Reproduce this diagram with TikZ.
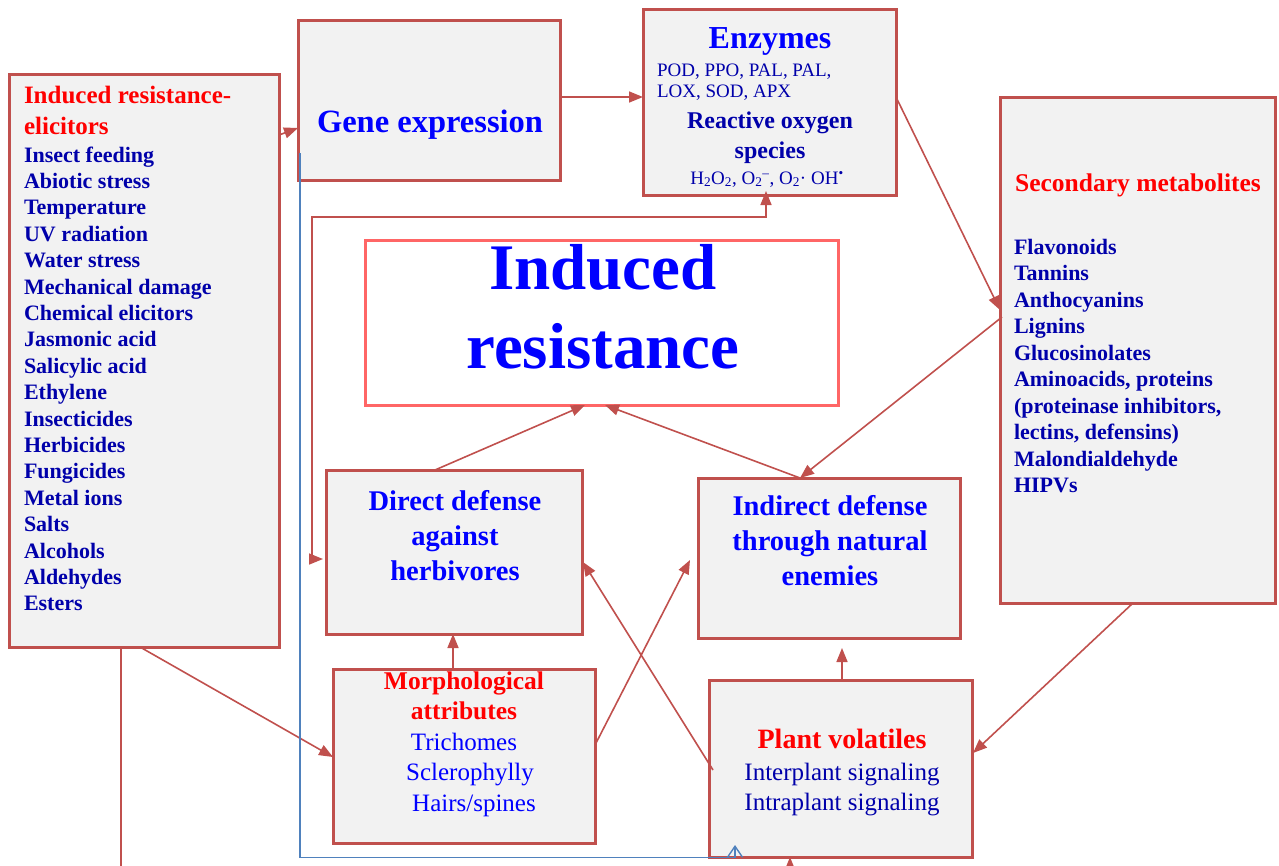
\documentclass[tikz,border=0pt]{standalone}
\usepackage{fontspec}
\setmainfont{Liberation Serif}
\usetikzlibrary{arrows.meta,calc}
\definecolor{bred}{RGB}{192,80,77}
\definecolor{bfill}{RGB}{242,242,242}
\definecolor{irred}{RGB}{255,102,102}
\definecolor{tblue}{RGB}{0,0,255}
\definecolor{navy}{RGB}{0,0,170}
\definecolor{tred}{RGB}{255,0,0}
\definecolor{lblue}{RGB}{79,129,189}
\begin{document}
\begin{tikzpicture}[x=1pt,y=-1pt,
  box/.style={draw=bred,fill=bfill,line width=3pt,inner sep=0pt,outer sep=0pt},
  con/.style={draw=bred,line width=1.6pt,-{Triangle[length=14pt,width=11pt]}},
  dcon/.style={draw=bred,line width=1.6pt,{Triangle[length=14pt,width=11pt]}-{Triangle[length=14pt,width=11pt]}},
  bcon/.style={draw=lblue,line width=1.4pt,-{Straight Barb[length=11pt,width=15pt]}},
  txt/.style={inner sep=0pt,outer sep=0pt},
  lst/.style={txt,anchor=base west,text=navy,font=\fontsize{22}{26}\selectfont\bfseries},
  rtitle/.style={txt,text=tred,font=\fontsize{25}{28}\selectfont\bfseries},
  btitle/.style={txt,anchor=base,text=tblue,font=\fontsize{28.5}{32}\selectfont\bfseries},
  mtext/.style={txt,anchor=base,text=tblue,font=\fontsize{25}{30}\selectfont},
]
\useasboundingbox (0,0) rectangle (1279,865);
\clip (0,0) rectangle (1279,865);

% boxes
\node[box,minimum width=270pt,minimum height=573pt] (elic) at (144,360.5) {};
\node[box,minimum width=262pt,minimum height=160pt] (gene) at (429,100) {};
\node[box,minimum width=253pt,minimum height=186pt] (enz) at (769.5,102) {};
\node[box,minimum width=275pt,minimum height=506pt] (sec) at (1137.5,350) {};
\node[box,draw=irred,fill=white,minimum width=473pt,minimum height=165pt] (ir) at (601.5,322.5) {};
\node[box,minimum width=256pt,minimum height=164pt] (dd) at (454,552) {};
\node[box,minimum width=262pt,minimum height=160pt] (id) at (829,558) {};
\node[box,minimum width=262pt,minimum height=174pt] (mo) at (464,756) {};
\node[box,minimum width=263pt,minimum height=177pt] (pv) at (840.5,768.5) {};

% left box text
\node[rtitle,anchor=base west] (elt1) at (24,103) {Induced resistance-};
\node[rtitle,anchor=base west] (elt2) at (24,134) {elicitors};
\foreach \t [count=\i from 0] in {Insect feeding,Abiotic stress,Temperature,UV radiation,Water stress,Mechanical damage,Chemical elicitors,Jasmonic acid,Salicylic acid,Ethylene,Insecticides,Herbicides,Fungicides,Metal ions,Salts,Alcohols,Aldehydes,Esters}
  \node[lst] (el\i) at (24,{162+26.4*\i}) {\t};

% gene expression
\node[btitle,font=\fontsize{32.5}{36}\selectfont\bfseries] (genet) at (430,132) {Gene expression};

% enzymes
\node[btitle,font=\fontsize{32}{36}\selectfont\bfseries] (enzt) at (770,48) {Enzymes};
\node[txt,anchor=base west,text=navy,font=\fontsize{19}{22}\selectfont] (enz1) at (657,76) {POD, PPO, PAL, PAL,};
\node[txt,anchor=base west,text=navy,font=\fontsize{19}{22}\selectfont] (enz2) at (657,97) {LOX, SOD, APX};
\node[txt,anchor=base,text=navy,font=\fontsize{24}{28}\selectfont\bfseries] (ros1) at (770,128) {Reactive oxygen};
\node[txt,anchor=base,text=navy,font=\fontsize{24}{28}\selectfont\bfseries] (ros2) at (770,158) {species};
\node[txt,anchor=base,text=navy,font=\fontsize{19}{22}\selectfont] (ros3) at (767,184) {H\textsubscript{2}O\textsubscript{2}, O\textsubscript{2}\textsuperscript{–}, O\textsubscript{2}· OH\textsuperscript{•}};

% induced resistance
\node[txt,anchor=base,text=tblue,font=\fontsize{65}{79}\selectfont\bfseries] (irt1) at (603,289) {Induced};
\node[txt,anchor=base,text=tblue,font=\fontsize{65}{79}\selectfont\bfseries] (irt2) at (603,368) {resistance};

% secondary metabolites
\node[rtitle,anchor=base,font=\fontsize{25.5}{28}\selectfont\bfseries] (sect) at (1138,191) {Secondary metabolites};
\foreach \t [count=\i from 0] in {Flavonoids,Tannins,Anthocyanins,Lignins,Glucosinolates,{Aminoacids, proteins},{(proteinase inhibitors,},{lectins, defensins)},Malondialdehyde,HIPVs}
  \node[lst] (se\i) at (1014,{254+26.5*\i}) {\t};

% direct / indirect defense
\node[btitle] (dd1) at (455,510) {Direct defense};
\node[btitle] (dd2) at (455,545) {against};
\node[btitle] (dd3) at (455,580) {herbivores};
\node[btitle] (id1) at (830,515) {Indirect defense};
\node[btitle] (id2) at (830,550) {through natural};
\node[btitle] (id3) at (830,585) {enemies};

% morphological
\node[rtitle,anchor=base,font=\fontsize{25.5}{30}\selectfont\bfseries] (mo1) at (464,689) {Morphological};
\node[rtitle,anchor=base,font=\fontsize{25.5}{30}\selectfont\bfseries] (mo2) at (464,719.5) {attributes};
\node[mtext] (mo3) at (464,750) {Trichomes};
\node[mtext] (mo4) at (470,780.5) {Sclerophylly};
\node[mtext] (mo5) at (474,811) {Hairs/spines};

% plant volatiles
\node[rtitle,anchor=base,font=\fontsize{28}{30}\selectfont\bfseries] (pv1) at (842,748) {Plant volatiles};
\node[mtext,text=navy] (pv2) at (842,780) {Interplant signaling};
\node[mtext,text=navy] (pv3) at (842,810) {Intraplant signaling};

% connectors
\draw[con] ($(elic.north east)+(0,61)$) -- ($(gene.north west)+(0,108)$);
\draw[con] ($(gene.east)+(0,-3)$) -- ($(enz.west)+(0,-5)$);
\draw[con] ($(enz.north east)+(0,88)$) -- ($(sec.north west)+(0,213)$);
\draw[con] ($(sec.north west)+(2,220)$) -- ($(id.north)+(-29,0)$);
\draw[con] ($(id.north)+(-29,0)$) -- ($(ir.south)+(3.5,0)$);
\draw[con] ($(dd.north)+(-19,0)$) -- ($(ir.south)+(-16.5,0)$);
\draw[con] ($(mo.north)+(-11,0)$) -- ($(dd.south)+(-1,0)$);
\draw[con] ($(pv.north)+(1.5,0)$) -- ($(id.south)+(13,10)$);
\draw[con] ($(mo.east)+(0,-11)$) -- ($(id.west)+(-8,2)$);
\draw[con] ($(pv.west)+(4,1.5)$) -- ($(dd.east)+(1,10)$);
\draw[con] ($(sec.south)+(-4.5,0)$) -- ($(pv.east)+(1,-15.5)$);
\draw[con] ($(elic.south)+(-4,0)$) -- ($(mo.west)+(0,1)$);

\coordinate (bl) at (121,890);
\coordinate (br) at (790,890);
\draw[con] ($(elic.south)+(-23,0)$) -- (bl) -- (br) -- ($(pv.south)+(-50.5,0)$);

\coordinate (ec) at (312,217);
\draw[dcon] ($(enz.south)+(-3.5,-4)$) |- (ec) |- ($(dd.west)+(-3,7)$);

\coordinate (bc) at (300,857.5);
\draw[bcon] ($(gene.south west)+(2,-27)$) -- (bc) -| ($(pv.south west)+(26,-12)$);
\end{tikzpicture}
\end{document}
